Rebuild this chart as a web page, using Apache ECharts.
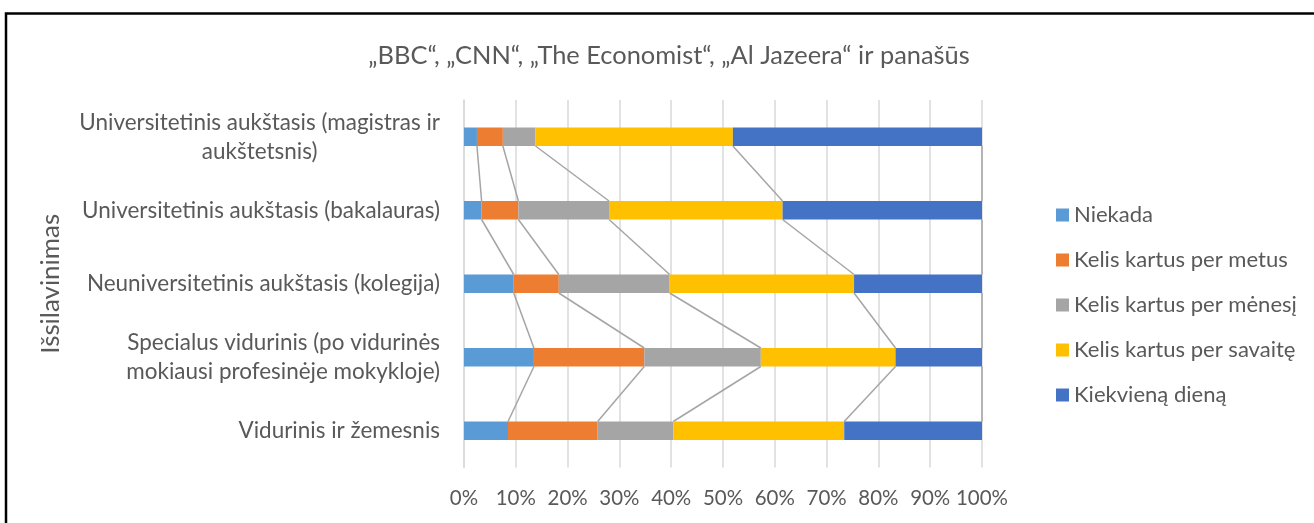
<!DOCTYPE html>
<html>
<head>
<meta charset="utf-8">
<script src="https://cdn.jsdelivr.net/npm/echarts@6/dist/echarts.min.js"></script>
<style>
html,body{margin:0;padding:0;background:#fff;}
#c{width:1314px;height:523px;}
</style>
</head>
<body>
<div id="c"></div>
<script>
// ---- DATA ----
const titleText = '„BBC“, „CNN“, „The Economist“, „Al Jazeera“ ir panašūs';
const yName = 'Išsilavinimas';
const categories = [
  'Vidurinis ir žemesnis',
  'Specialus vidurinis (po vidurinės\nmokiausi profesinėje mokykloje)',
  'Neuniversitetinis aukštasis (kolegija)',
  'Universitetinis aukštasis (bakalauras)',
  'Universitetinis aukštasis (magistras ir\naukštetsnis)'
];
const seriesNames = ['Niekada', 'Kelis kartus per metus', 'Kelis kartus per mėnesį', 'Kelis kartus per savaitę', 'Kiekvieną dieną'];
const niekada = [8.5, 13.5, 9.6, 3.4, 2.5];
const metus   = [17.3, 21.3, 8.7, 7.1, 5.0];
const menesi  = [14.6, 22.5, 21.4, 17.5, 6.3];
const savaite = [33.0, 26.0, 35.6, 33.5, 38.1];
const diena   = [26.6, 16.7, 24.7, 38.5, 48.1];
const xTicks = [0, 10, 20, 30, 40, 50, 60, 70, 80, 90, 100];

// ---- STYLE ----
const colors = ['#5B9BD5', '#ED7D31', '#A5A5A5', '#FFC000', '#4472C4'];
const FF = 'Lato';
const TXT = '#595959';
const ctx = document.createElement('canvas').getContext('2d');
function measure(text, size) { ctx.font = size + 'px ' + FF; return ctx.measureText(text).width; }
function fit(text, target) { return 100 * target / measure(text, 100); }
const fsLabel = fit('Universitetinis aukštasis (bakalauras)', 358);
const fsTitle = fit(titleText, 602);
const fsLegend = fit('Kelis kartus per mėnesį', 223);
const fsX = fit('100%', 52);
const fsName = fit(yName, 140);
const BAR = 18.5;

// rich styles: each label's lines centred inside the widest line (spacer tokens on both sides)
const rich = { c: { color: TXT, fontFamily: FF, fontSize: fsLabel, lineHeight: 29 } };
const labelText = {};
categories.forEach((c, i) => {
  const lines = c.split('\n');
  const widths = lines.map(l => measure(l, fsLabel));
  const maxW = Math.max.apply(null, widths);
  labelText[c] = lines.map((l, j) => {
    const pad = (maxW - widths[j]) / 2;
    if (pad > 0.5) {
      const key = 'p' + i + '_' + j;
      rich[key] = { width: pad, height: 1, lineHeight: 29 };
      return '{' + key + '|}{c|' + l + '}{' + key + '|}';
    }
    return '{c|' + l + '}';
  }).join('\n');
});

const allSeries = [niekada, metus, menesi, savaite, diena];
const cum = [];
allSeries.forEach((arr, k) => {
  cum.push(arr.map((v, i) => (k ? cum[k - 1][i] : 0) + v));
});
const connectors = [];
for (let i = 0; i < categories.length - 1; i++) {
  for (let k = 0; k < allSeries.length; k++) {
    connectors.push([cum[k][i + 1], i + 1, cum[k][i], i]);
  }
}

const series = allSeries.map((arr, k) => ({
  name: seriesNames[k],
  type: 'bar',
  stack: 'total',
  barWidth: BAR,
  data: arr,
  itemStyle: { color: colors[k] },
  emphasis: { disabled: true },
  z: 3
}));
series.push({
  type: 'custom',
  silent: true,
  encode: { x: [0, 2], y: [1, 3] },
  data: connectors,
  z: 2,
  renderItem: function (params, api) {
    const p1 = api.coord([api.value(0), api.value(1)]);
    const p2 = api.coord([api.value(2), api.value(3)]);
    const h = BAR / 2;
    return {
      type: 'line',
      shape: { x1: p1[0], y1: p1[1] + h, x2: p2[0], y2: p2[1] - h },
      style: { stroke: '#A5A5A5', lineWidth: 1.5 }
    };
  }
});

const chart = echarts.init(document.getElementById('c'), null, { renderer: 'canvas' });
chart.setOption({
  animation: false,
  backgroundColor: '#fff',
  textStyle: { fontFamily: FF },
  title: {
    text: titleText,
    left: 664,
    textAlign: 'center',
    top: 36,
    textStyle: { fontFamily: FF, fontSize: fsTitle, fontWeight: 'normal', color: TXT, lineHeight: 30 }
  },
  legend: {
    orient: 'vertical',
    left: 1051,
    top: 198,
    itemWidth: 13,
    itemHeight: 13,
    itemGap: 21,
    itemTextGap: 6,
    icon: 'rect',
    data: seriesNames,
    selectedMode: false,
    textStyle: { fontFamily: FF, fontSize: fsLegend, color: TXT, lineHeight: 24 }
  },
  grid: { left: 464, right: 332, top: 100, bottom: 55.5, containLabel: false },
  xAxis: {
    type: 'value',
    min: 0, max: 100, interval: 10,
    axisLine: { show: false },
    axisTick: { show: false },
    splitLine: { show: true, lineStyle: { color: '#D9D9D9', width: 1.5 } },
    axisLabel: {
      margin: 21,
      color: TXT,
      fontFamily: FF,
      fontSize: fsX,
      formatter: v => xTicks.includes(v) ? v + '%' : ''
    }
  },
  yAxis: {
    type: 'category',
    data: categories,
    name: yName,
    nameLocation: 'middle',
    nameRotate: 90,
    nameGap: 400,
    nameTextStyle: { fontFamily: FF, fontSize: fsName, color: TXT },
    axisLine: { show: true, lineStyle: { color: '#D9D9D9', width: 1.5 } },
    axisTick: { show: false },
    splitLine: { show: false },
    axisLabel: {
      margin: 24,
      align: 'right',
      color: TXT,
      fontFamily: FF,
      fontSize: fsLabel,
      lineHeight: 29,
      formatter: v => labelText[v],
      rich: rich
    }
  },
  graphic: [{
    type: 'rect',
    silent: true,
    shape: { x: 6, y: 13.5, width: 1400, height: 700 },
    style: { fill: 'none', stroke: '#000', lineWidth: 2.5 },
    z: 100
  }],
  series: series
});
</script>
</body>
</html>
